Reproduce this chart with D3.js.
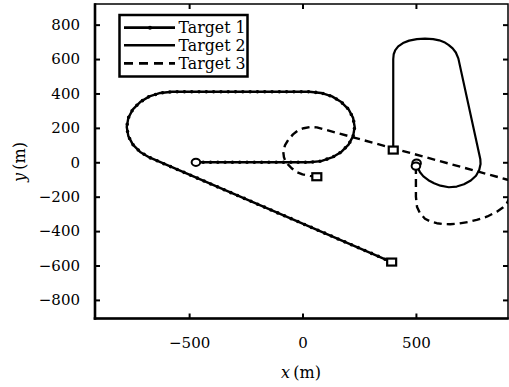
<!DOCTYPE html>
<html><head><meta charset="utf-8">
<script src="https://cdn.jsdelivr.net/npm/d3@7"></script>
<style>body{margin:0;background:#fff} svg{display:block}</style>
</head><body><svg id="c" width="509" height="387"></svg>
<script>
const xTicks = [-500, 0, 500];
const yTicks = [-800, -600, -400, -200, 0, 200, 400, 600, 800];
const seriesNames = ["Target 1", "Target 2", "Target 3"];

const t1x = [-470, 30, 82, 130, 171, 203, 223, 230, 223, 203, 171, 130, 82, 30, -575, -627, -675, -716, -748, -768, -775, -768, -748, -716, -675, 393];
const t1y = [0, 0, 7, 28, 60, 103, 152, 205, 258, 308, 350, 383, 403, 410, 410, 403, 383, 350, 308, 258, 205, 152, 103, 60, 28, -580];

const t2x = [503, 508, 518, 533, 555, 580, 608, 645, 680, 712, 742, 765, 779, 785, 784, 687, 676, 662, 645, 625, 603, 576, 540, 504, 470, 443, 422, 409, 402, 400, 400];
const t2y = [-5, -30, -58, -82, -104, -122, -136, -145, -141, -128, -106, -78, -45, -10, 17, 604, 638, 662, 681, 698, 709, 716, 719, 716, 707, 693, 674, 652, 628, 600, 71];

const t3x = [500, 500, 500, 505, 518, 540, 565, 592, 620, 651, 690, 730, 768, 815, 857, 885, 901, 915, 926, 930, 920, 900, 857, 63, 35, 5, -20, -42, -62, -77, -85, -82, -75, -62, -48, -26, 0, 33, 63];
const t3y = [-22, -100, -200, -260, -296, -328, -345, -354, -359, -360, -356, -347, -335, -315, -287, -262, -238, -200, -160, -125, -105, -100, -84, 203, 205, 198, 185, 162, 132, 100, 62, 30, 5, -15, -35, -57, -70, -79, -84];

const W = 509, H = 387;
const L = 95, R = 508, T = 4, B = 318.5;
const x = d3.scaleLinear().domain([-915, 906]).range([L, R]);
const y = d3.scaleLinear().domain([-908, 920]).range([B, T]);

const svg = d3.select("#c");
const FONT = "'DejaVu Serif', serif";

svg.append("defs").append("clipPath").attr("id", "clip")
  .append("rect").attr("x", L).attr("y", T).attr("width", R - L).attr("height", B - T);

const series = [
  {xs: t1x, ys: t1y, w: 2.4, dash: null, dots: true},
  {xs: t2x, ys: t2y, w: 2.2, dash: null, dots: false},
  {xs: t3x, ys: t3y, w: 2.4, dash: "8 5", dots: false}
];

const line = d3.line().x(d => x(d[0])).y(d => y(d[1]));
const g = svg.append("g").attr("clip-path", "url(#clip)");

series.forEach(s => {
  const pts = s.xs.map((v, i) => [v, s.ys[i]]);
  g.append("path").attr("d", line(pts)).attr("fill", "none").attr("stroke", "#000")
    .attr("stroke-width", s.w).attr("stroke-linejoin", "round")
    .attr("stroke-dasharray", s.dash);
  if (s.dots) {
    g.append("path").attr("d", line(pts)).attr("fill", "none").attr("stroke", "#000")
      .attr("stroke-width", 3.6).attr("stroke-linecap", "round")
      .attr("stroke-dasharray", "0 7.3");
  }
});

// start (ellipse) and end (square) markers
series.forEach(s => {
  const n = s.xs.length;
  g.append("ellipse").attr("cx", x(s.xs[0])).attr("cy", y(s.ys[0]))
    .attr("rx", 4.3).attr("ry", 3.6).attr("fill", "#fff").attr("stroke", "#000").attr("stroke-width", 2);
  g.append("rect").attr("x", x(s.xs[n - 1]) - 4.5).attr("y", y(s.ys[n - 1]) - 3.5)
    .attr("width", 9).attr("height", 7).attr("fill", "#fff").attr("stroke", "#000").attr("stroke-width", 2.2);
});

// axes
function styleAxis(sel, showText) {
  sel.select(".domain").remove();
  sel.selectAll(".tick line").attr("stroke", "#000").attr("stroke-width", 2);
  sel.selectAll(".tick text").attr("font-family", FONT).attr("font-size", 15).attr("fill", "#000");
  if (!showText) sel.selectAll(".tick text").remove();
}
const fmt = d3.format("d");
svg.append("g").attr("transform", `translate(0,${B})`)
  .call(d3.axisBottom(x).tickValues(xTicks).tickFormat(fmt).tickSizeInner(-5).tickSizeOuter(0).tickPadding(19))
  .call(s => styleAxis(s, true));
svg.append("g").attr("transform", `translate(0,${T})`)
  .call(d3.axisTop(x).tickValues(xTicks).tickSizeInner(-5).tickSizeOuter(0))
  .call(s => styleAxis(s, false));
svg.append("g").attr("transform", `translate(${L},0)`)
  .call(d3.axisLeft(y).tickValues(yTicks).tickFormat(fmt).tickSizeInner(-5).tickSizeOuter(0).tickPadding(15))
  .call(s => styleAxis(s, true));
svg.append("g").attr("transform", `translate(${R},0)`)
  .call(d3.axisRight(y).tickValues(yTicks).tickSizeInner(-5).tickSizeOuter(0))
  .call(s => styleAxis(s, false));

// frame
svg.append("rect").attr("x", L).attr("y", T).attr("width", R - L).attr("height", B - T)
  .attr("fill", "none").attr("stroke", "#000").attr("stroke-width", 1.5);
svg.append("line").attr("x1", L).attr("x2", L).attr("y1", T - 0.75).attr("y2", B + 1.25)
  .attr("stroke", "#000").attr("stroke-width", 2.6);
svg.append("line").attr("x1", L - 1.3).attr("x2", R + 0.75).attr("y1", B).attr("y2", B)
  .attr("stroke", "#000").attr("stroke-width", 2.6);

// axis labels
const xl = svg.append("text").attr("x", 301).attr("y", 378).attr("text-anchor", "middle")
  .attr("font-family", FONT).attr("font-size", 16).attr("fill", "#000");
xl.append("tspan").attr("font-style", "italic").text("x");
xl.append("tspan").text("\u2009(m)");
const yl = svg.append("text").attr("transform", "translate(25,162) rotate(-90)").attr("text-anchor", "middle")
  .attr("font-family", FONT).attr("font-size", 16).attr("fill", "#000");
yl.append("tspan").attr("font-style", "italic").text("y");
yl.append("tspan").text("\u2009(m)");

// legend
const lg = svg.append("g");
lg.append("rect").attr("x", 119.5).attr("y", 15).attr("width", 128).attr("height", 61.5)
  .attr("fill", "#fff").attr("stroke", "#000").attr("stroke-width", 2.5);
const rowsY = [27.7, 45.3, 63.3];
const items = lg.selectAll("g.item").data(seriesNames).join("g").attr("class", "item");
items.append("line").attr("x1", 124).attr("x2", 175).attr("y1", (d, i) => rowsY[i]).attr("y2", (d, i) => rowsY[i])
  .attr("stroke", "#000").attr("stroke-width", (d, i) => series[i].w + 0.3)
  .attr("stroke-dasharray", (d, i) => series[i].dash ? "9 6" : null);
items.filter((d, i) => series[i].dots).append("circle").attr("cx", 150).attr("cy", (d, i) => rowsY[0]).attr("r", 2).attr("fill", "#000");
items.append("text").attr("x", 178.5).attr("y", (d, i) => rowsY[i] + 5.6)
  .attr("font-family", FONT).attr("font-size", 16).attr("fill", "#000")
  .attr("textLength", 67).attr("lengthAdjust", "spacingAndGlyphs").text(d => d);
</script></body></html>
